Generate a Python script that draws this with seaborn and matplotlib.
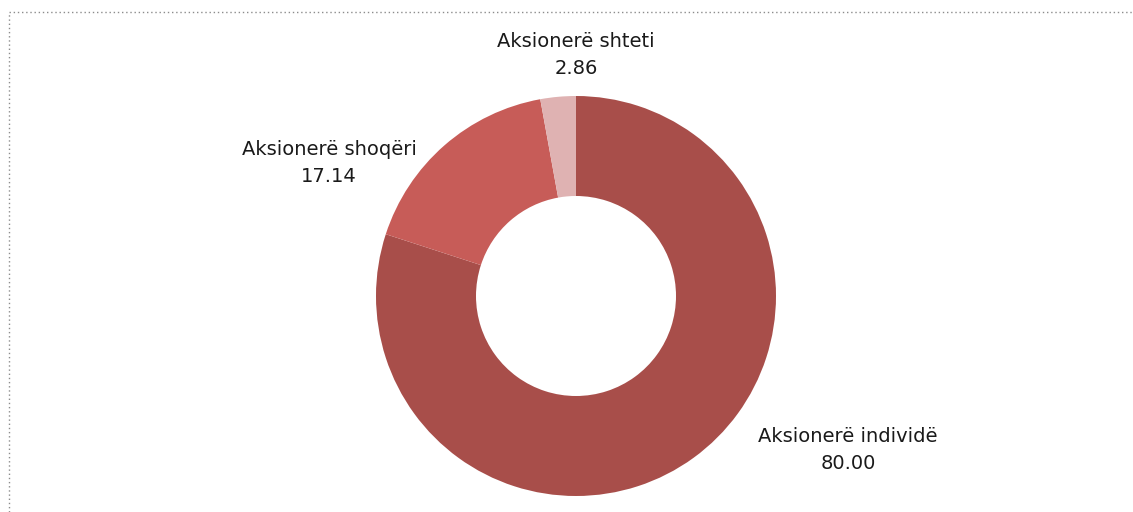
import matplotlib
matplotlib.use("Agg")
import matplotlib.pyplot as plt
from matplotlib.lines import Line2D
import seaborn as sns

CATEGORIES = ["Aksionerë individë", "Aksionerë shoqëri", "Aksionerë shteti"]
VALUES = [80.00, 17.14, 2.86]
COLORS = ["#A84E4A", "#C75C58", "#DFB2B2"]

W, H = 1133, 512

# label anchors in axes coords (pie spans 0..1)
LABEL_POS = [(1.18, 0.115), (-0.1175, 0.8325), (0.5, 1.1025)]


def main():
    sns.set_theme(style="white")
    plt.rcParams["font.family"] = ["DejaVu Sans"]

    fig = plt.figure(figsize=(W / 100, H / 100), dpi=100)
    fig.patch.set_facecolor("white")

    # dotted frame, only top and left edges fall inside the image
    x0, y0 = 8.5 / W, 1 - 11.5 / H
    fig.add_artist(Line2D([x0, 1.0], [y0, y0], transform=fig.transFigure,
                          color="#8c8c8c", lw=1, ls=(0, (1, 2))))
    fig.add_artist(Line2D([x0, x0], [0.0, y0], transform=fig.transFigure,
                          color="#8c8c8c", lw=1, ls=(0, (1, 2))))

    cx, cy, r = 576, 296, 200
    ax = fig.add_axes([(cx - r) / W, (H - cy - r) / H, 2 * r / W, 2 * r / H])
    ax.pie(VALUES, colors=COLORS, startangle=90, counterclock=False,
           radius=1, wedgeprops=dict(width=0.5, edgecolor="none"))
    ax.set_xlim(-1, 1)
    ax.set_ylim(-1, 1)
    ax.set_aspect("equal")
    ax.axis("off")

    for name, val, (lx, ly) in zip(CATEGORIES, VALUES, LABEL_POS):
        ax.text(lx, ly, f"{name}\n{val:.2f}", transform=ax.transAxes,
                ha="center", va="center", fontsize=14, color="#1a1a1a",
                linespacing=1.55, clip_on=False)

    fig.savefig("out.png", dpi=100, facecolor="white")


if __name__ == "__main__":
    main()
